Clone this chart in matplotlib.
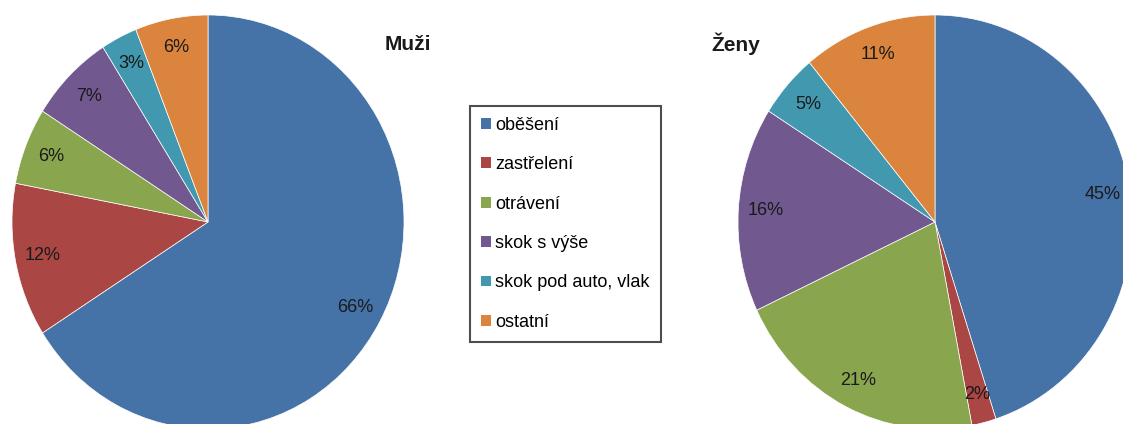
import matplotlib
matplotlib.use("Agg")
import matplotlib.pyplot as plt
from matplotlib.patches import Patch

categories = ["oběšení", "zastřelení", "otrávení", "skok s výše", "skok pod auto, vlak", "ostatní"]
muzi = [66, 12, 6, 7, 3, 6]
zeny = [45, 2, 21, 16, 5, 11]
colors = ["#4572A7", "#AA4643", "#89A54E", "#71588F", "#4198AF", "#DB843D"]

plt.rcParams['font.family'] = ['Liberation Sans', 'DejaVu Sans']

W, H = 1123, 424
fig = plt.figure(figsize=(W / 100, H / 100), dpi=100)

def px_axes(x0, y0, x1, y1):
    # pixel box (top-left origin) -> figure axes
    return fig.add_axes([x0 / W, 1 - y1 / H, (x1 - x0) / W, (y1 - y0) / H])

def draw_pie(ax, vals):
    wedges, texts, autotexts = ax.pie(
        vals, colors=colors, startangle=90, counterclock=False,
        autopct=lambda p: f"{p:.0f}%", pctdistance=0.86, radius=1,
        wedgeprops=dict(edgecolor="white", linewidth=0.5),
        textprops=dict(fontsize=13, color="#1a1a1a"))
    ax.set_xlim(-1, 1)
    ax.set_ylim(-1, 1)
    ax.set_aspect("auto")
    ax.axis("off")
    for w in wedges:
        w.set_clip_on(False)
    return wedges

ax1 = px_axes(12, 15, 404, 429)
draw_pie(ax1, muzi)
ax2 = px_axes(738, 15, 1132, 429)
draw_pie(ax2, zeny)

fig.text(408 / W, 1 - 45 / H, "Muži", fontsize=15, fontweight="bold",
         ha="center", va="center", color="#1a1a1a")
fig.text(736 / W, 1 - 44 / H, "Ženy", fontsize=15, fontweight="bold",
         ha="center", va="center", color="#1a1a1a")

handles = [Patch(facecolor=c, edgecolor="none") for c in colors]
leg = fig.legend(handles, categories, loc="upper left",
                 bbox_to_anchor=(470 / W, 1 - 106 / H),
                 frameon=True, fancybox=False, fontsize=13,
                 handlelength=0.55, handleheight=0.55, handletextpad=0.25,
                 labelspacing=1.24, borderpad=0.6, borderaxespad=0)
leg.get_frame().set_edgecolor("#222222")
leg.get_frame().set_linewidth(1.5)

fig.savefig("out.png", dpi=100)
